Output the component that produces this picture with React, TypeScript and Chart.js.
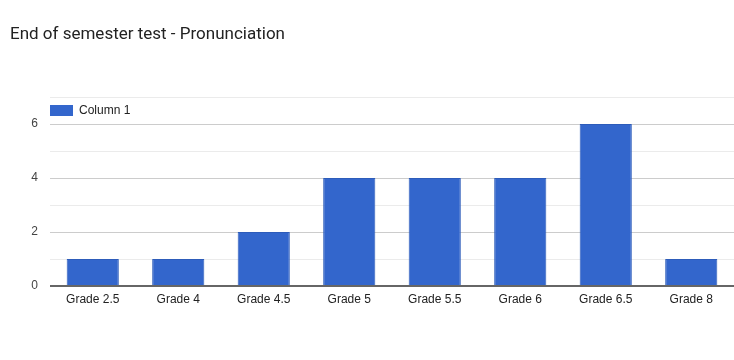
import React, { useEffect, useRef } from "react";
import { Chart, registerables } from "chart.js";

Chart.register(...registerables);

const categories = ["Grade 2.5", "Grade 4", "Grade 4.5", "Grade 5", "Grade 5.5", "Grade 6", "Grade 6.5", "Grade 8"];
const values = [1, 1, 2, 4, 4, 4, 6, 1];
const seriesName = "Column 1";
const titleText = "End of semester test - Pronunciation";
const yMax = 7;

const overlay = {
  id: "overlay",
  afterDraw(chart: any) {
    const ctx = chart.ctx;
    ctx.save();
    ctx.fillStyle = "#222";
    ctx.font = "17px Roboto";
    ctx.textBaseline = "middle";
    ctx.textAlign = "left";
    ctx.fillText(titleText, 10, 35);
    ctx.fillStyle = "#3366cc";
    ctx.fillRect(50, 105, 23, 11);
    ctx.fillStyle = "#222";
    ctx.font = "12px 'Liberation Sans', Arial";
    ctx.fillText(seriesName, 79, 111);
    ctx.restore();
  },
};

export default function App() {
  const ref = useRef<HTMLCanvasElement>(null);
  useEffect(() => {
    document.body.style.margin = "0";
    const chart = new Chart(ref.current!, {
      type: "bar",
      data: {
        labels: categories,
        datasets: [
          {
            label: seriesName,
            data: values,
            backgroundColor: "#3366cc",
            borderColor: "#2d5cba",
            borderWidth: 1,
            categoryPercentage: 1,
            barPercentage: 0.61,
          },
        ],
      },
      options: {
        responsive: false,
        animation: false,
        layout: { padding: { top: 97, left: 0, right: 0, bottom: 0 } },
        plugins: { legend: { display: false }, title: { display: false }, tooltip: { enabled: false } },
        scales: {
          x: {
            grid: { display: false, drawTicks: false },
            border: { display: false },
            ticks: { color: "#222", font: { family: "'Liberation Sans', Arial", size: 12 }, padding: 6, maxRotation: 0 },
            afterFit(scale: any) {
              scale.height = 74;
            },
          },
          y: {
            min: 0,
            max: yMax,
            grid: {
              drawTicks: false,
              color: (c: any) => {
                const v = c.tick?.value;
                if (v === 0) return "#666";
                return v % 2 === 0 ? "#cccccc" : "#ebebeb";
              },
              lineWidth: (c: any) => (c.tick?.value === 0 ? 2 : 1),
            },
            border: { display: false },
            ticks: {
              stepSize: 1,
              padding: 12,
              color: "#444",
              font: { family: "'Liberation Sans', Arial", size: 12 },
              callback: (v: any) => (Number(v) % 2 === 0 && Number(v) < yMax ? String(v) : ""),
            },
            afterFit(scale: any) {
              scale.width = 50;
            },
          },
        },
      },
      plugins: [overlay],
    });
    return () => chart.destroy();
  }, []);
  return <canvas ref={ref} width={734} height={360} />;
}
